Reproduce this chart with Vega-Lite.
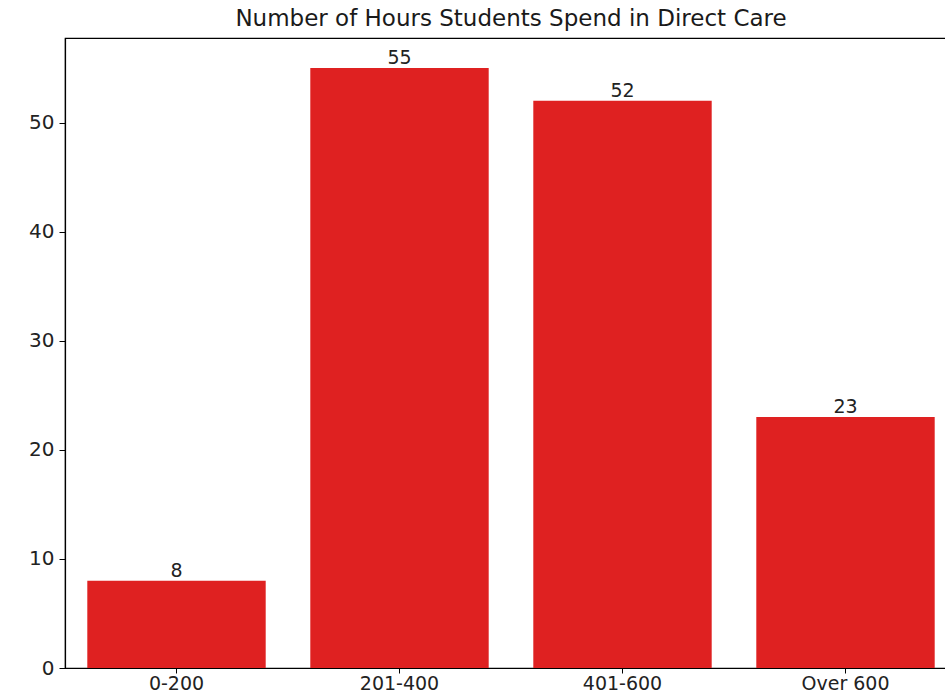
{
  "$schema": "https://vega.github.io/schema/vega-lite/v6.json",
  "autosize": "none",
  "padding": {"left": 65, "top": 38, "right": 0, "bottom": 28},
  "width": 892,
  "height": 630,
  "background": "white",
  "title": {"text": "Number of Hours Students Spend in Direct Care", "font": "DejaVu Sans", "fontSize": 23, "fontWeight": "normal", "color": "#1a1a1a", "anchor": "middle", "offset": 7},
  "config": {
    "view": {"stroke": "black", "strokeWidth": 1.2},
    "axis": {"labelFont": "DejaVu Sans", "labelColor": "#222", "domainColor": "black", "tickColor": "black", "grid": false, "title": null}
  },
  "data": {"values": [
    {"hours": "0-200", "count": 8},
    {"hours": "201-400", "count": 55},
    {"hours": "401-600", "count": 52},
    {"hours": "Over 600", "count": 23}
  ]},
  "encoding": {
    "x": {"field": "hours", "type": "nominal", "sort": null, "scale": {"paddingInner": 0.2, "paddingOuter": 0.1},
      "axis": {"labelAngle": 0, "labelFontSize": 19, "tickSize": 5, "labelPadding": 1, "domainWidth": 1.2}},
    "y": {"field": "count", "type": "quantitative", "scale": {"domain": [0, 57.75], "nice": false},
      "axis": {"values": [0, 10, 20, 30, 40, 50], "labelFontSize": 20, "tickSize": 6, "labelPadding": 5, "domainWidth": 1.2}}
  },
  "layer": [
    {"mark": {"type": "bar", "color": "#DF2121"}},
    {"mark": {"type": "text", "baseline": "bottom", "dy": 0, "font": "DejaVu Sans", "fontSize": 19, "color": "#222"},
      "encoding": {"text": {"field": "count", "type": "quantitative"}}}
  ]
}
